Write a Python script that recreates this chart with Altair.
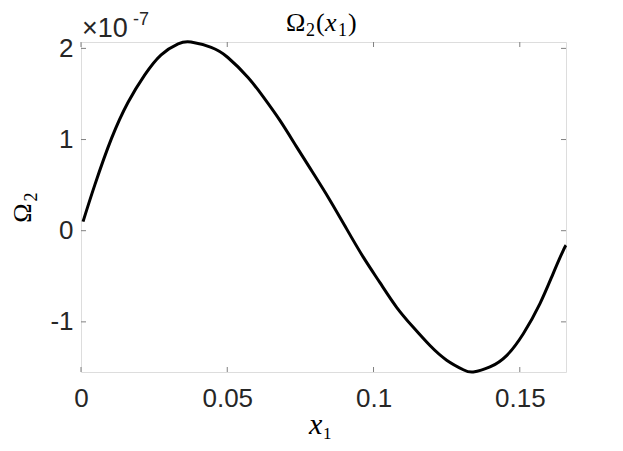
import altair as alt
import pandas as pd

# Curve values (y in units of 1e-7)
x_vals = [0.0007, 0.0047, 0.0104, 0.0161, 0.0218, 0.0274, 0.0332, 0.0376, 0.0445,
          0.0502, 0.0571, 0.0625, 0.0680, 0.0737, 0.0794, 0.0851, 0.0908, 0.0965,
          0.1022, 0.1079, 0.1136, 0.1193, 0.1250, 0.1307, 0.1341, 0.1398, 0.1455,
          0.1512, 0.1569, 0.1614, 0.1648, 0.1658]
y_vals = [0.10, 0.50, 1.01, 1.41, 1.71, 1.93, 2.05, 2.07, 2.01,
          1.90, 1.68, 1.46, 1.21, 0.92, 0.63, 0.335, 0.02, -0.29,
          -0.57, -0.84, -1.06, -1.26, -1.42, -1.525, -1.55, -1.495, -1.37,
          -1.13, -0.80, -0.47, -0.22, -0.16]

x_ticks = [0, 0.05, 0.1, 0.15]
y_ticks = [-1, 0, 1, 2]
x_domain = [0, 0.1658]
y_domain = [-1.55, 2.07]

exp_base = "×10"
exp_power = "-7"
title_parts = ["Ω", "2", "(", "x", "1", ")"]
ytitle_parts = ["Ω", "2"]
xtitle_parts = ["x", "1"]

W, H = 485, 330
AX = "#808080"
LBL = "#262626"

df = pd.DataFrame({"x": x_vals, "y": y_vals})
xs = alt.Scale(domain=x_domain, nice=False, zero=False)
ys = alt.Scale(domain=y_domain, nice=False, zero=False)

x_axis = alt.Axis(
    values=x_ticks, labelExpr="'' + datum.value", labelFont="Liberation Sans",
    labelFontSize=26, labelColor=LBL, ticks=False, domain=False, grid=False,
    title=None, labelPadding=13, labelFlush=False)
y_axis = alt.Axis(
    values=y_ticks, labelExpr="datum.value < 0 ? '-' + abs(datum.value) : '' + datum.value",
    labelFont="Liberation Sans", labelFontSize=26, labelColor=LBL, ticks=False,
    domain=False, grid=False, title=None, labelPadding=8, labelFlush=False)

line = alt.Chart(df).mark_line(color="black", strokeWidth=3, interpolate="natural").encode(
    x=alt.X("x:Q", scale=xs, axis=x_axis),
    y=alt.Y("y:Q", scale=ys, axis=y_axis),
)

xt_df = pd.DataFrame({"x": x_ticks})
yt_df = pd.DataFrame({"y": y_ticks})
tick_bot = alt.Chart(xt_df).mark_rule(color=AX, strokeWidth=1).encode(
    x=alt.X("x:Q", scale=xs, axis=x_axis), y=alt.value(H), y2=alt.value(H - 5))
tick_top = alt.Chart(xt_df).mark_rule(color=AX, strokeWidth=1).encode(
    x=alt.X("x:Q", scale=xs, axis=x_axis), y=alt.value(0), y2=alt.value(5))
tick_left = alt.Chart(yt_df).mark_rule(color=AX, strokeWidth=1).encode(
    y=alt.Y("y:Q", scale=ys, axis=y_axis), x=alt.value(0), x2=alt.value(5))
tick_right = alt.Chart(yt_df).mark_rule(color=AX, strokeWidth=1).encode(
    y=alt.Y("y:Q", scale=ys, axis=y_axis), x=alt.value(W), x2=alt.value(W - 5))

dummy = alt.Data(values=[{}])


def txt(text, x, y, size, font="Liberation Serif", style="normal", angle=0, align="left",
        baseline="alphabetic", color="black"):
    return alt.Chart(dummy).mark_text(
        text=text, font=font, fontSize=size, fontStyle=style, angle=angle, align=align,
        baseline=baseline, color=color).encode(x=alt.value(x), y=alt.value(y))


texts = [
    # title  Ω2(x1)
    txt(title_parts[0], 205, -11, 26),
    txt(title_parts[1], 225, -6, 18),
    txt(title_parts[2], 235, -11, 26),
    txt(title_parts[3], 244, -11, 26, style="italic"),
    txt(title_parts[4], 257, -6, 18),
    txt(title_parts[5], 267, -11, 26),
    # exponent label
    txt(exp_base, 1, -5, 27, font="Liberation Sans", color=LBL),
    txt(exp_power, 52, -17, 18, font="Liberation Sans", color=LBL),
    # y title (rotated)
    txt(ytitle_parts[0], -58, 171, 26, angle=270, align="center", baseline="middle"),
    txt(ytitle_parts[1], -49, 155, 18, angle=270, align="center", baseline="middle"),
    # x title
    txt(xtitle_parts[0], 228, 392, 30, style="italic"),
    txt(xtitle_parts[1], 242, 397, 17),
]

chart = alt.layer(line, tick_bot, tick_top, tick_left, tick_right, *texts).properties(
    width=W, height=H,
    autosize=alt.AutoSizeParams(type="none"),
    padding={"left": 73, "top": 34, "right": 49, "bottom": 71},
).configure_view(stroke=AX, strokeWidth=1).configure(background="white")

chart.save("out.html", embed_options={"renderer": "svg", "actions": False})
